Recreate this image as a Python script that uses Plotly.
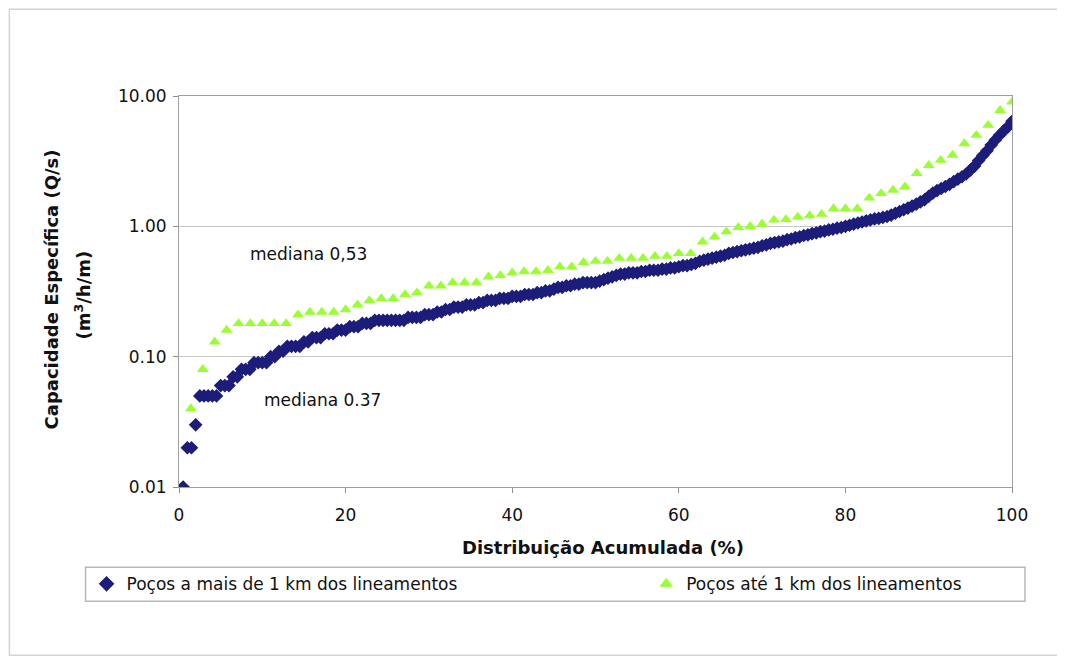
import plotly.graph_objects as go

# ---------------- data ----------------
blue_name = "Poços a mais de 1 km dos lineamentos"
green_name = "Poços até 1 km dos lineamentos"

blue_values = [
    0.01, 0.02, 0.02, 0.03, 0.05, 0.05, 0.05, 0.05, 0.05, 0.06,
    0.06, 0.06, 0.07, 0.07, 0.08, 0.08, 0.08, 0.09, 0.09, 0.09,
    0.09, 0.10, 0.10, 0.11, 0.11, 0.12, 0.12, 0.12, 0.12, 0.13,
    0.13, 0.14, 0.14, 0.14, 0.15, 0.15, 0.15, 0.16, 0.16, 0.16,
    0.17, 0.17, 0.17, 0.18, 0.18, 0.18, 0.19, 0.19, 0.19, 0.19,
    0.19, 0.19, 0.19, 0.19, 0.20, 0.20, 0.20, 0.20, 0.21, 0.21,
    0.21, 0.22, 0.22, 0.23, 0.23, 0.24, 0.24, 0.24, 0.25, 0.25,
    0.25, 0.26, 0.26, 0.27, 0.27, 0.27, 0.28, 0.28, 0.28, 0.29,
    0.29, 0.29, 0.30, 0.30, 0.30, 0.31, 0.31, 0.32, 0.32, 0.33,
    0.34, 0.34, 0.35, 0.35, 0.36, 0.36, 0.37, 0.37, 0.37, 0.37,
    0.38, 0.39, 0.40, 0.41, 0.42, 0.43, 0.43, 0.44, 0.44, 0.44,
    0.45, 0.45, 0.46, 0.46, 0.46, 0.47, 0.47, 0.48, 0.48, 0.49,
    0.50, 0.50, 0.51, 0.52, 0.54, 0.55, 0.56, 0.57, 0.58, 0.59,
    0.60, 0.62, 0.63, 0.64, 0.65, 0.66, 0.67, 0.68, 0.69, 0.71,
    0.72, 0.74, 0.75, 0.76, 0.77, 0.79, 0.80, 0.82, 0.83, 0.85,
    0.86, 0.88, 0.89, 0.91, 0.92, 0.94, 0.95, 0.97, 0.98, 1.00,
    1.02, 1.04, 1.06, 1.08, 1.10, 1.12, 1.14, 1.15, 1.17, 1.19,
    1.22, 1.26, 1.30, 1.34, 1.38, 1.43, 1.48, 1.54, 1.60, 1.70,
    1.80, 1.88, 1.95, 2.02, 2.10, 2.20, 2.30, 2.40, 2.52, 2.70,
    2.90, 3.20, 3.50, 3.80, 4.20, 4.60, 5.00, 5.40, 5.80, 6.40,
]

green_values = [
    0.04, 0.08, 0.13, 0.16, 0.18, 0.18, 0.18, 0.18, 0.18, 0.21,
    0.22, 0.22, 0.22, 0.23, 0.25, 0.27, 0.28, 0.28, 0.30, 0.31,
    0.35, 0.35, 0.37, 0.37, 0.37, 0.41, 0.42, 0.44, 0.45, 0.45,
    0.46, 0.49, 0.49, 0.53, 0.54, 0.54, 0.57, 0.57, 0.57, 0.59,
    0.59, 0.62, 0.62, 0.76, 0.83, 0.91, 0.98, 1.00, 1.04, 1.12,
    1.13, 1.18, 1.21, 1.24, 1.37, 1.37, 1.37, 1.65, 1.79, 1.90,
    2.01, 2.55, 2.94, 3.22, 3.52, 4.32, 5.00, 5.97, 7.77, 9.00,
]

# cumulative distribution (%) of each sorted sample
blue_x = [(i + 1) * 100.0 / len(blue_values) for i in range(len(blue_values))]
green_x = [(i + 1) * 100.0 / len(green_values) for i in range(len(green_values))]

x_ticks = [0, 20, 40, 60, 80, 100]
y_ticks = [0.01, 0.1, 1, 10]
y_tick_labels = ["0.01", "0.10", "1.00", "10.00"]

x_title = "Distribuição Acumulada (%)"
y_title_1 = "Capacidade Específica (Q/s)"
y_title_2 = "(m<sup>3</sup>/h/m)"
median_green_text = "mediana 0,53"
median_blue_text = "mediana 0.37"

# ---------------- figure ----------------
FONT = "DejaVu Sans"
W, H = 1065, 661
OFF = 8  # page body margin: figure is drawn 8px right/down of the window corner
L = 178.5 - OFF
T = 95.7 - OFF
R = W - (1012 - OFF)
B = H - (487.5 - OFF)
pw = W - L - R
ph = H - T - B


def px2x(px):
    return (px - OFF - L) / pw


def py2y(py):
    return (H - B - (py - OFF)) / ph


fig = go.Figure()

fig.add_trace(go.Scatter(
    x=blue_x, y=blue_values, mode="markers", name=blue_name, legend="legend",
    marker=dict(symbol="diamond", size=10.5, color="#1c1c7a", line=dict(width=0)),
))
fig.add_trace(go.Scatter(
    x=green_x, y=green_values, mode="markers", name=green_name, legend="legend2",
    marker=dict(symbol="triangle-up", size=10.5, color="#99ff33", line=dict(width=0)),
))

legend_font = dict(family=FONT, size=17, color="#111111")

fig.update_layout(
    width=W, height=H,
    margin=dict(l=L, r=R, t=T, b=B, autoexpand=False),
    paper_bgcolor="white", plot_bgcolor="white",
    font=dict(family=FONT, size=16, color="#111111"),
    showlegend=True,
    legend=dict(
        orientation="h", x=px2x(86), y=py2y(585), xanchor="left", yanchor="middle",
        bgcolor="rgba(0,0,0,0)", borderwidth=0, font=legend_font, itemsizing="constant",
    ),
    legend2=dict(
        orientation="h", x=px2x(646), y=py2y(585), xanchor="left", yanchor="middle",
        bgcolor="rgba(0,0,0,0)", borderwidth=0, font=legend_font, itemsizing="constant",
    ),
    xaxis=dict(
        range=[0, 100], tickvals=x_ticks, ticks="outside", ticklen=5,
        tickcolor="#909090", showgrid=False, zeroline=False,
        showline=True, linecolor="#a0a0a0", linewidth=1, mirror=True,
        tickfont=dict(family=FONT, size=17), ticklabelstandoff=8,
    ),
    yaxis=dict(
        type="log", range=[-2, 1], tickvals=y_ticks, ticktext=y_tick_labels,
        ticks="outside", ticklen=5, tickcolor="#909090",
        showgrid=True, gridcolor="#c8c8c8", gridwidth=1, zeroline=False,
        showline=True, linecolor="#a0a0a0", linewidth=1, mirror=True,
        tickfont=dict(family=FONT, size=17), ticklabelstandoff=3,
    ),
    shapes=[
        dict(type="rect", xref="paper", yref="paper",
             x0=px2x(8.8), x1=px2x(1060), y0=py2y(656), y1=py2y(8.8),
             line=dict(color="#d4d4d4", width=1.5), fillcolor="rgba(0,0,0,0)", layer="below"),
        dict(type="rect", xref="paper", yref="paper",
             x0=px2x(85), x1=px2x(1025), y0=py2y(602), y1=py2y(568),
             line=dict(color="#b8b8b8", width=1.5), fillcolor="rgba(0,0,0,0)", layer="below"),
    ],
    annotations=[
        dict(text="<b>" + x_title + "</b>", xref="paper", yref="paper",
             x=px2x(603), y=py2y(548), showarrow=False,
             font=dict(family=FONT, size=18), xanchor="center", yanchor="middle"),
        dict(text="<b>" + y_title_1 + "</b>", xref="paper", yref="paper",
             x=px2x(51), y=py2y(290), showarrow=False, textangle=-90,
             font=dict(family=FONT, size=18), xanchor="center", yanchor="middle"),
        dict(text="<b>" + y_title_2 + "</b>", xref="paper", yref="paper",
             x=px2x(82), y=py2y(295), showarrow=False, textangle=-90,
             font=dict(family=FONT, size=18), xanchor="center", yanchor="middle"),
        dict(text=median_green_text, xref="paper", yref="paper",
             x=px2x(308), y=py2y(254), showarrow=False,
             font=dict(family=FONT, size=17), xanchor="center", yanchor="middle"),
        dict(text=median_blue_text, xref="paper", yref="paper",
             x=px2x(322), y=py2y(400), showarrow=False,
             font=dict(family=FONT, size=17), xanchor="center", yanchor="middle"),
    ],
)

fig.write_html("out.html")
